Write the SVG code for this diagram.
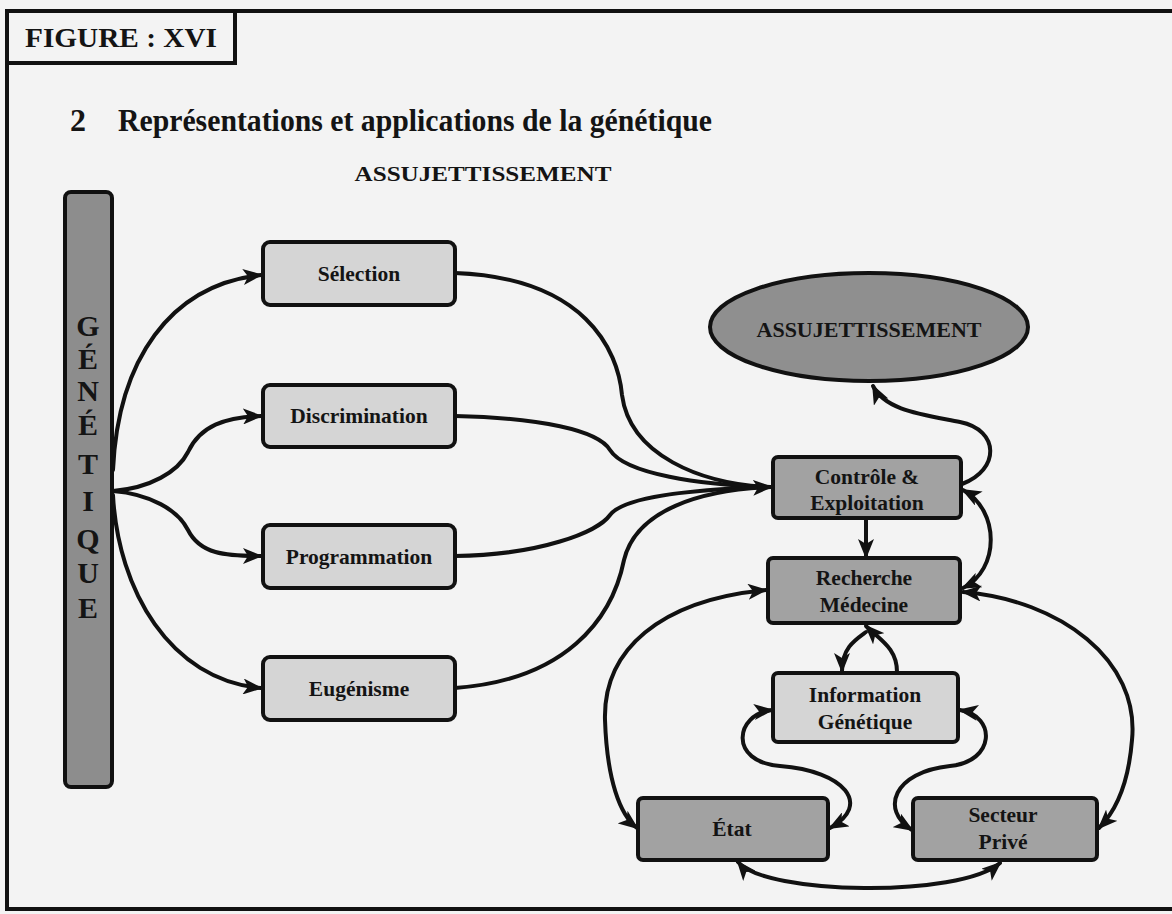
<svg xmlns="http://www.w3.org/2000/svg" width="1172" height="914" viewBox="0 0 1172 914">
  <style>
    .frame { fill: none; stroke: #111; stroke-width: 4; }
    .lbl { font-family: "Liberation Serif", "Times New Roman", serif; font-weight: bold; fill: #141414; text-anchor: middle; }
    .start { text-anchor: start; }
    .light { fill: #d5d5d5; stroke: #111; stroke-width: 4; }
    .dark { fill: #a2a2a2; stroke: #111; stroke-width: 4; }
    .bar { fill: #8d8d8d; stroke: #111; stroke-width: 4; }
    .edge { fill: none; stroke: #111; stroke-width: 4; stroke-linecap: round; }
    .node-text { font-size: 21.5px; }
  </style>
  <defs>
    <marker id="arrow" viewBox="0 0 20 16" refX="18" refY="8" markerWidth="20" markerHeight="16" markerUnits="userSpaceOnUse" orient="auto-start-reverse">
      <path d="M0,0 L20,8 L0,16 L5,8 Z" fill="#111"/>
    </marker>
  </defs>

  <!-- page -->
  <rect x="0" y="0" width="1172" height="914" fill="#f3f3f3"/>
  <rect class="frame" x="7" y="11" width="1175" height="898"/>

  <!-- header -->
  <g id="figure-tag">
    <rect class="frame" x="7" y="11" width="228" height="52"/>
    <text class="lbl" x="121" y="47" font-size="27" textLength="192" lengthAdjust="spacingAndGlyphs">FIGURE : XVI</text>
  </g>
  <g id="title">
    <text class="lbl start" x="70" y="131" font-size="32">2</text>
    <text class="lbl start" x="118" y="131" font-size="32" textLength="594" lengthAdjust="spacingAndGlyphs">Représentations et applications de la génétique</text>
    <text class="lbl" x="483" y="181" font-size="20" textLength="257" lengthAdjust="spacingAndGlyphs">ASSUJETTISSEMENT</text>
  </g>

  <!-- connectors -->
  <g id="connectors">
    <!-- génétique to the four applications -->
    <path class="edge" marker-end="url(#arrow)" d="M113,470 C118,360 170,285 261,275"/>
    <path class="edge" marker-end="url(#arrow)" d="M113,491 C150,488 178,472 188,452 C200,426 225,417 261,416"/>
    <path class="edge" marker-end="url(#arrow)" d="M113,491 C150,494 178,510 188,530 C200,554 225,556 261,556"/>
    <path class="edge" marker-end="url(#arrow)" d="M113,495 C118,590 170,680 261,688"/>

    <!-- applications converging on Contrôle & Exploitation -->
    <path class="edge" d="M455,273 C585,278 618,350 622,395 C630,455 700,484 770,487"/>
    <path class="edge" d="M455,416 C540,418 598,430 610,450 C625,474 700,485 770,487"/>
    <path class="edge" d="M455,556 C540,555 598,532 610,515 C625,495 700,489 770,487"/>
    <path class="edge" marker-end="url(#arrow)" d="M455,688 C565,680 612,620 624,560 C636,510 700,490 771,487"/>

    <!-- Contrôle to the ellipse -->
    <path class="edge" marker-end="url(#arrow)" d="M962,484 C1000,470 1000,430 960,422 C920,414 885,410 873,386"/>
    <!-- Contrôle down to Recherche -->
    <path class="edge" marker-end="url(#arrow)" d="M866,518 L866,557"/>
    <!-- Recherche up to Contrôle -->
    <path class="edge" marker-start="url(#arrow)" marker-end="url(#arrow)" d="M963,588 C1000,570 1000,510 963,490"/>
    <!-- Recherche and Secteur Privé -->
    <path class="edge" marker-start="url(#arrow)" marker-end="url(#arrow)" d="M963,592 C1060,600 1140,660 1132,740 C1128,790 1112,815 1099,828"/>
    <!-- Recherche and État -->
    <path class="edge" marker-start="url(#arrow)" marker-end="url(#arrow)" d="M766,590 C660,600 603,650 605,720 C607,780 620,815 637,828"/>
    <!-- Recherche / Information loop -->
    <path class="edge" marker-end="url(#arrow)" d="M897,672 C897,648 880,640 866,626"/>
    <path class="edge" marker-end="url(#arrow)" d="M866,632 C855,640 842,648 842,671"/>
    <!-- Information and État -->
    <path class="edge" marker-start="url(#arrow)" marker-end="url(#arrow)" d="M772,710 C735,714 728,762 780,766 C845,771 872,805 830,828"/>
    <!-- Information and Secteur Privé -->
    <path class="edge" marker-start="url(#arrow)" marker-end="url(#arrow)" d="M960,710 C997,716 995,762 950,766 C893,772 880,810 912,830"/>
    <!-- État and Secteur Privé -->
    <path class="edge" marker-start="url(#arrow)" marker-end="url(#arrow)" d="M738,862 C765,895 960,898 1000,863"/>
  </g>

  <!-- nodes -->
  <g id="genetique">
    <rect class="bar" x="65" y="192" width="47" height="595" rx="6"/>
    <g class="lbl" font-size="30">
      <text x="88" y="336">G</text>
      <text x="88" y="369">É</text>
      <text x="88" y="401">N</text>
      <text x="88" y="435">É</text>
      <text x="88" y="474">T</text>
      <text x="88" y="511">I</text>
      <text x="88" y="549">Q</text>
      <text x="88" y="583">U</text>
      <text x="88" y="618">E</text>
    </g>
  </g>

  <g id="selection">
    <rect class="light" x="263" y="242" width="192" height="63" rx="7"/>
    <text class="lbl node-text" x="359" y="281">Sélection</text>
  </g>
  <g id="discrimination">
    <rect class="light" x="263" y="385" width="192" height="62" rx="7"/>
    <text class="lbl node-text" x="359" y="423">Discrimination</text>
  </g>
  <g id="programmation">
    <rect class="light" x="263" y="525" width="192" height="63" rx="7"/>
    <text class="lbl node-text" x="359" y="564">Programmation</text>
  </g>
  <g id="eugenisme">
    <rect class="light" x="263" y="657" width="192" height="63" rx="7"/>
    <text class="lbl node-text" x="359" y="696">Eugénisme</text>
  </g>

  <g id="assujettissement">
    <ellipse cx="869" cy="327" rx="159" ry="54" fill="#8f8f8f" stroke="#111" stroke-width="4"/>
    <text class="lbl" x="869" y="337" font-size="20" textLength="225" lengthAdjust="spacingAndGlyphs">ASSUJETTISSEMENT</text>
  </g>
  <g id="controle">
    <rect class="dark" x="773" y="457" width="188" height="61" rx="5"/>
    <text class="lbl node-text" x="867" y="484">Contrôle &amp;</text>
    <text class="lbl node-text" x="867" y="510">Exploitation</text>
  </g>
  <g id="recherche">
    <rect class="dark" x="768" y="558" width="192" height="65" rx="5"/>
    <text class="lbl node-text" x="864" y="585">Recherche</text>
    <text class="lbl node-text" x="864" y="612">Médecine</text>
  </g>
  <g id="information">
    <rect class="light" x="773" y="673" width="185" height="69" rx="5"/>
    <text class="lbl node-text" x="865" y="702">Information</text>
    <text class="lbl node-text" x="865" y="729">Génétique</text>
  </g>
  <g id="etat">
    <rect class="dark" x="638" y="798" width="190" height="62" rx="5"/>
    <text class="lbl node-text" x="732" y="836">État</text>
  </g>
  <g id="secteur-prive">
    <rect class="dark" x="913" y="798" width="184" height="62" rx="5"/>
    <text class="lbl node-text" x="1003" y="822">Secteur</text>
    <text class="lbl node-text" x="1003" y="849">Privé</text>
  </g>
</svg>
